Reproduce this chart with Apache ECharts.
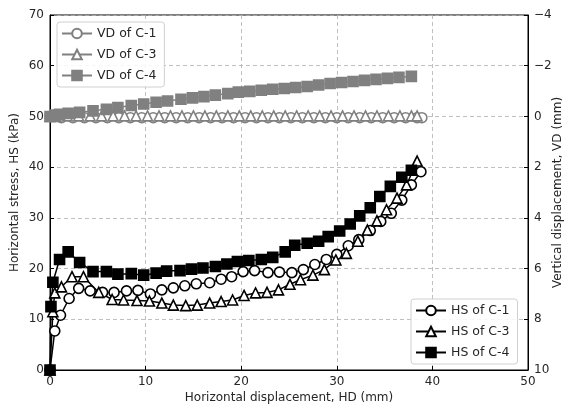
<!DOCTYPE html>
<html>
<head>
<meta charset="utf-8">
<script src="https://cdn.jsdelivr.net/npm/echarts@6/dist/echarts.min.js"></script>
<style>html,body{margin:0;padding:0;background:#fff}#c{width:569px;height:412px}</style>
</head>
<body>
<div id="c"></div>
<script>
// Horizontal displacement (mm) and horizontal stress (kPa)
var hdC1 = [0,0.5,1.1,2.0,3.0,4.2,5.5,6.7,8.0,9.2,10.5,11.7,12.9,14.1,15.3,16.7,17.9,19.0,20.2,21.4,22.8,24.0,25.3,26.5,27.7,28.9,30.0,31.2,32.3,33.5,34.6,35.7,36.8,37.8,38.8];
var hsC1 = [0,7.7,10.8,14.1,16.1,15.6,15.3,15.3,15.6,15.7,15.0,15.8,16.2,16.6,17.0,17.2,17.9,18.4,19.4,19.6,19.2,19.3,19.2,19.8,20.8,21.8,22.8,24.5,25.7,27.5,29.3,30.9,33.5,36.5,39.1];
var hdC3 = [0,0.3,0.5,1.2,2.3,3.5,5.1,6.5,7.7,9.1,10.4,11.7,12.9,14.2,15.4,16.7,17.9,19.1,20.3,21.5,22.7,23.9,25.1,26.2,27.5,28.7,29.9,31.0,32.2,33.2,34.2,35.2,36.3,37.3,38.4];
var hsC3 = [0,11.5,15.2,16.4,18.4,18.4,15.3,13.9,13.8,13.7,13.6,13.2,12.8,12.7,12.8,13.2,13.5,13.8,14.7,15.2,15.3,15.8,16.9,17.8,18.7,19.8,21.7,23.0,25.4,27.6,29.4,31.6,33.9,36.5,41.2];
var hdC4 = [0,0.1,0.3,1.0,1.9,3.1,4.5,5.9,7.1,8.5,9.8,11.1,12.2,13.6,14.8,16.0,17.3,18.5,19.6,20.8,22.1,23.3,24.6,25.6,26.9,28.1,29.1,30.3,31.4,32.4,33.5,34.5,35.6,36.8,37.8];
var hsC4 = [0,12.5,17.3,21.8,23.3,21.2,19.4,19.4,18.9,19.0,18.7,19.1,19.5,19.6,19.9,20.1,20.4,20.9,21.4,21.6,21.8,22.2,23.3,24.6,25.0,25.4,26.3,27.4,28.8,30.4,32.0,34.2,36.2,38.0,39.4];

// Vertical displacement (mm)
var vdXC1 = [0,1.2,2.4,3.6,4.8,6.0,7.2,8.4,9.6,10.8,12.0,13.2,14.4,15.6,16.8,18.0,19.2,20.4,21.6,22.8,24.0,25.2,26.4,27.6,28.8,30.0,31.2,32.4,33.6,34.8,36.0,37.2,38.4,38.9];
var vdC1  = [0,0.05,0.05,0.05,0.05,0.05,0.05,0.05,0.05,0.05,0.05,0.05,0.05,0.05,0.05,0.05,0.05,0.05,0.05,0.05,0.05,0.05,0.05,0.05,0.05,0.05,0.05,0.05,0.05,0.05,0.05,0.05,0.05,0.05];
var vdXC3 = [0,0.6,1.8,3.0,4.2,5.4,6.6,7.8,9.0,10.2,11.4,12.6,13.8,15.0,16.2,17.4,18.6,19.8,21.0,22.2,23.4,24.6,25.8,27.0,28.2,29.4,30.6,31.8,33.0,34.2,35.4,36.6,37.8,38.4];
var vdC3  = [0,0,-0.02,-0.02,-0.02,-0.02,-0.02,-0.02,-0.02,-0.02,-0.02,-0.02,-0.02,-0.02,-0.02,-0.02,-0.02,-0.02,-0.02,-0.02,-0.02,-0.02,-0.02,-0.02,-0.02,-0.02,-0.02,-0.02,-0.02,-0.02,-0.02,-0.02,-0.02,-0.02];
var vdXC4 = [0,0.5,1.0,1.9,3.1,4.5,5.9,7.1,8.5,9.8,11.1,12.3,13.7,14.9,16.1,17.3,18.6,19.7,20.9,22.1,23.3,24.5,25.7,26.9,28.1,29.3,30.5,31.7,32.9,34.1,35.3,36.5,37.8];
var vdC4  = [0,-0.05,-0.08,-0.12,-0.16,-0.22,-0.28,-0.35,-0.43,-0.49,-0.56,-0.61,-0.68,-0.73,-0.78,-0.84,-0.90,-0.96,-0.99,-1.03,-1.07,-1.10,-1.14,-1.18,-1.24,-1.30,-1.34,-1.38,-1.42,-1.46,-1.50,-1.54,-1.58];

function pairs(xs, ys){ return xs.map(function(x,i){ return [x, ys[i]]; }); }

var FONT = 'DejaVu Sans';
var TXT = '#262626';
var GRAY = '#808080';

var chart = echarts.init(document.getElementById('c'), null, {renderer:'canvas'});

function hsSeries(name, xs, ys, sym, size, fill){
  return {
    name: name, type: 'line', xAxisIndex: 0, yAxisIndex: 0,
    data: pairs(xs, ys), symbol: sym, symbolSize: size, showAllSymbol: true,
    lineStyle: {color: '#000', width: 1.5},
    itemStyle: {color: fill, borderColor: '#000', borderWidth: 1.6},
    emphasis: {disabled: true}, z: 3
  };
}
function vdSeries(name, xs, ys, sym, size, fill){
  return {
    name: name, type: 'line', xAxisIndex: 0, yAxisIndex: 1,
    data: pairs(xs, ys), symbol: sym, symbolSize: size, showAllSymbol: true,
    lineStyle: {color: GRAY, width: 1.5},
    itemStyle: {color: fill, borderColor: GRAY, borderWidth: 1.6},
    emphasis: {disabled: true}, z: 4
  };
}

var option = {
  animation: false,
  backgroundColor: '#fff',
  textStyle: {fontFamily: FONT},
  grid: {left: 50, right: 41, top: 15, bottom: 42, show: true, borderColor: '#000', borderWidth: 1,
         backgroundColor: 'transparent', containLabel: false, outerBoundsMode: 'none'},
  legend: [
    {
      data: ['VD of C-1','VD of C-3','VD of C-4'],
      orient: 'vertical', left: 57, top: 22,
      itemWidth: 30, itemHeight: 12, itemGap: 8,
      padding: [5, 8, 5, 4],
      borderColor: '#d0d0d0', borderWidth: 1, borderRadius: 3,
      backgroundColor: 'rgba(255,255,255,0.85)',
      textStyle: {fontFamily: FONT, fontSize: 12.5, color: TXT}
    },
    {
      data: ['HS of C-1','HS of C-3','HS of C-4'],
      orient: 'vertical', left: 411, top: 299,
      itemWidth: 30, itemHeight: 12, itemGap: 8,
      padding: [5, 8, 5, 4],
      borderColor: '#d0d0d0', borderWidth: 1, borderRadius: 3,
      backgroundColor: 'rgba(255,255,255,0.85)',
      textStyle: {fontFamily: FONT, fontSize: 12.5, color: TXT}
    }
  ],
  xAxis: {
    type: 'value', min: 0, max: 50, interval: 10,
    name: 'Horizontal displacement, HD (mm)', nameLocation: 'middle', nameGap: 22, nameMoveOverlap: false,
    nameTextStyle: {fontFamily: FONT, fontSize: 12, color: TXT},
    axisLine: {show: true, lineStyle: {color: '#000', width: 1}},
    axisTick: {show: true, inside: true, length: 4, lineStyle: {color: '#000'}},
    axisLabel: {fontFamily: FONT, fontSize: 12, color: TXT, margin: 6},
    splitLine: {show: true, lineStyle: {color: '#b0b0b0', type: [4, 3], width: 0.8}}
  },
  yAxis: [
    {
      type: 'value', min: 0, max: 70, interval: 10, position: 'left',
      name: 'Horizontal stress, HS (kPa)', nameLocation: 'middle', nameGap: 29, nameRotate: 90, nameMoveOverlap: false,
      nameTextStyle: {fontFamily: FONT, fontSize: 12, color: TXT},
      axisLine: {show: true, lineStyle: {color: '#000', width: 1}},
      axisTick: {show: true, inside: true, length: 4, lineStyle: {color: '#000'}},
      axisLabel: {fontFamily: FONT, fontSize: 12, color: TXT, margin: 6},
      splitLine: {show: true, lineStyle: {color: '#b0b0b0', type: [4, 3], width: 0.8}}
    },
    {
      type: 'value', min: -4, max: 10, interval: 2, inverse: true, position: 'right',
      name: 'Vertical displacement, VD (mm)', nameLocation: 'middle', nameGap: 24, nameRotate: 90, nameMoveOverlap: false,
      nameTextStyle: {fontFamily: FONT, fontSize: 12, color: TXT},
      axisLine: {show: true, lineStyle: {color: '#000', width: 1}},
      axisTick: {show: true, inside: true, length: 4, lineStyle: {color: '#000'}},
      axisLabel: {fontFamily: FONT, fontSize: 12, color: TXT, margin: 6,
        formatter: function(v){ return String(v).replace('-', '\u2212'); }},
      splitLine: {show: false}
    }
  ],
  series: [
    hsSeries('HS of C-1', hdC1, hsC1, 'circle', 10, '#fff'),
    hsSeries('HS of C-3', hdC3, hsC3, 'triangle', 10, '#fff'),
    hsSeries('HS of C-4', hdC4, hsC4, 'rect', 10, '#000'),
    vdSeries('VD of C-1', vdXC1, vdC1, 'circle', 10, '#fff'),
    vdSeries('VD of C-3', vdXC3, vdC3, 'triangle', 10, '#fff'),
    vdSeries('VD of C-4', vdXC4, vdC4, 'rect', 10, GRAY)
  ]
};
chart.setOption(option);
</script>
</body>
</html>
